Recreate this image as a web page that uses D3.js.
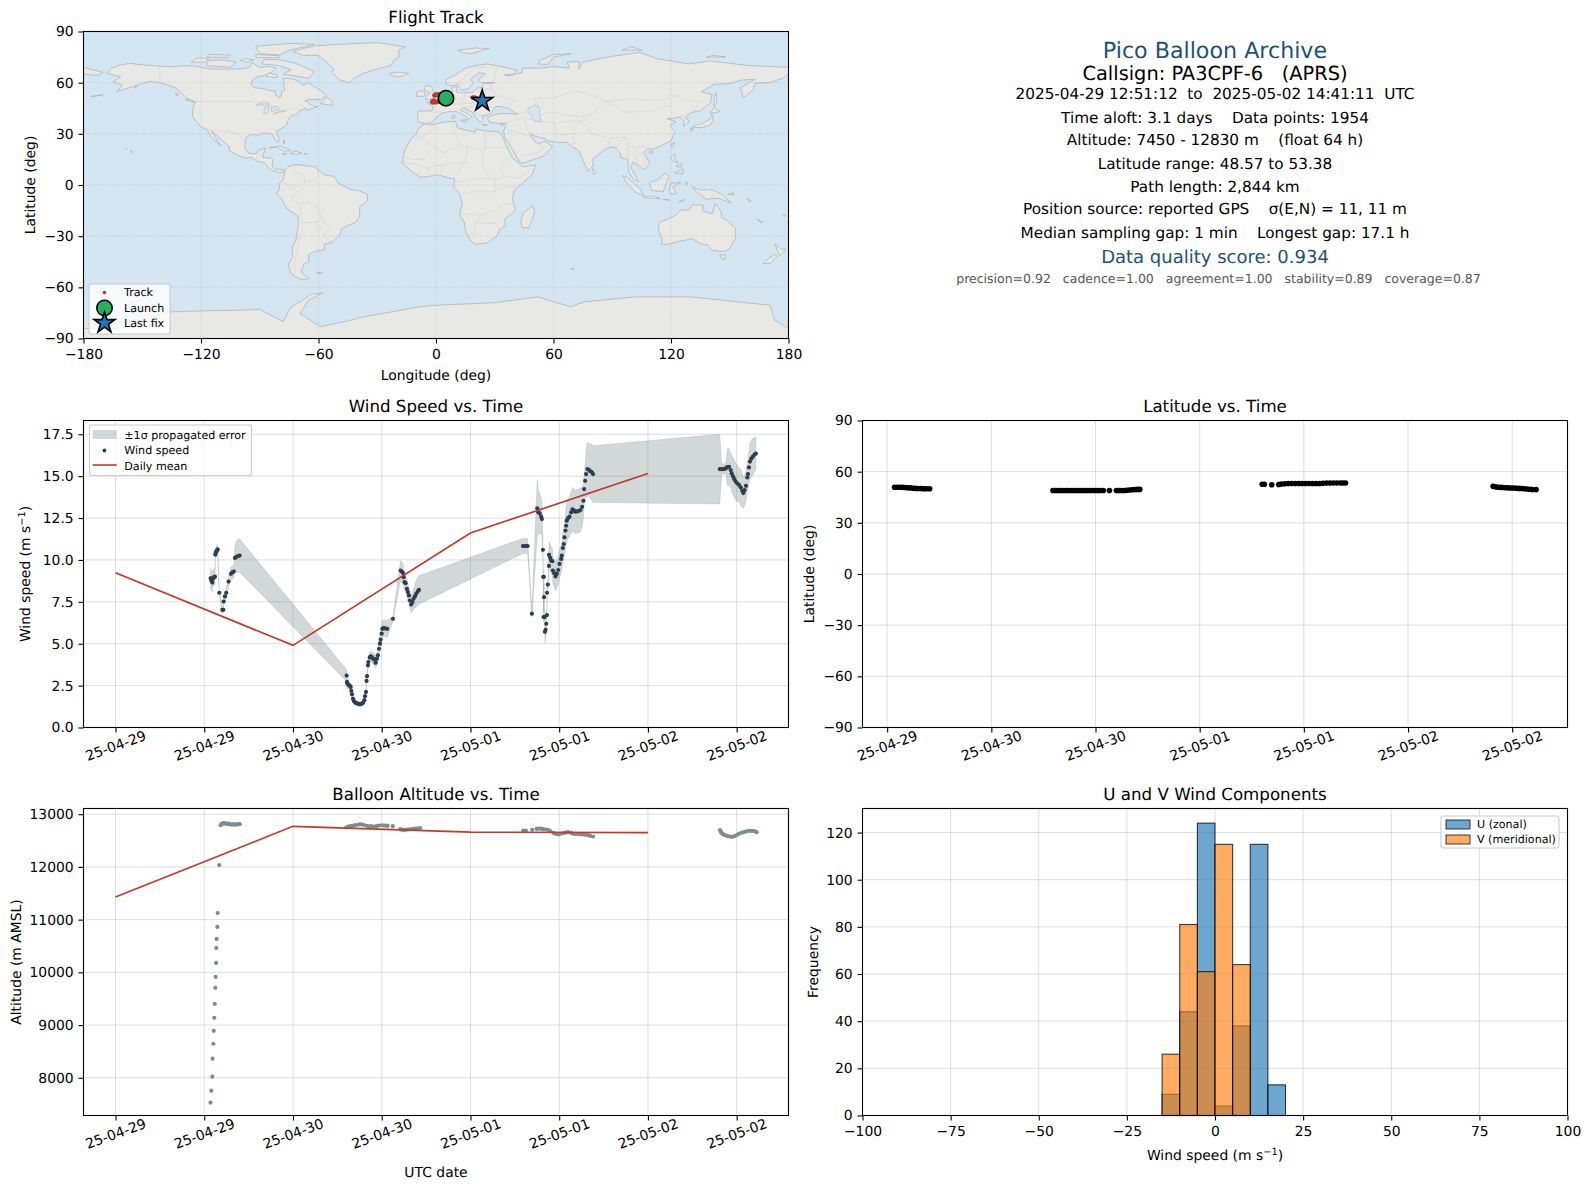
<!DOCTYPE html>
<html>
<head>
<meta charset="utf-8">
<script src="https://d3js.org/d3.v7.min.js"></script>
<style>
body {margin:0; background:#fff;}
svg {display:block;}
text {font-family:"DejaVu Sans"; fill:#000; text-rendering:geometricPrecision;}
</style>
</head>
<body>
<script>
// hours since 2025-04-29 00:00 UTC
var windHours = [12.87,12.96,13.09,13.18,13.32,13.45,13.50,13.58,13.72,13.81,14.03,14.44,14.58,14.62,14.80,14.98,15.29,15.61,15.83,16.00,16.15,16.28,16.51,16.78,
31.26,31.30,31.35,31.49,31.67,31.80,31.89,31.98,32.12,32.25,32.43,32.61,32.84,33.06,33.29,33.47,33.65,33.74,33.87,33.95,34.01,34.14,34.19,34.37,34.50,34.64,34.82,35.04,35.18,35.36,35.49,35.63,35.76,35.85,35.99,36.08,36.26,36.48,36.75,37.52,
38.55,38.69,38.87,38.96,39.09,39.23,39.41,39.54,39.68,39.81,39.99,40.13,40.31,40.49,40.67,40.89,41.03,
55.10,55.33,55.55,55.73,56.31,57.03,57.17,57.35,57.57,57.66,57.80,57.84,57.89,57.93,57.95,58.02,58.07,58.16,58.25,58.34,58.36,58.47,58.61,58.62,58.79,58.92,59.06,59.15,59.33,59.51,59.69,59.87,60.04,60.27,60.36,60.49,60.63,60.72,60.85,60.94,61.03,61.21,61.39,61.62,61.80,61.98,62.20,62.43,62.65,62.88,63.10,63.28,63.37,63.51,63.64,63.82,64.00,64.18,64.40,64.58,
81.71,81.98,82.25,82.52,82.74,82.97,83.19,83.33,83.51,83.69,83.87,84.09,84.31,84.54,84.76,84.90,85.08,85.26,85.44,85.53,85.66,85.80,85.98,86.20,86.43,86.60];
var windSpeed = [8.91,8.77,8.65,8.87,8.97,9.00,10.32,10.46,10.56,10.63,8.04,7.02,7.02,7.52,7.82,8.04,8.71,9.17,9.27,9.31,10.12,10.16,10.22,10.26,
3.10,2.72,2.62,2.54,2.50,2.42,2.18,1.98,1.71,1.57,1.49,1.45,1.41,1.39,1.41,1.47,1.63,1.87,2.12,2.78,3.06,3.71,3.91,4.17,4.25,4.21,4.11,4.05,3.87,4.11,4.31,4.70,5.00,5.24,5.60,5.89,5.93,5.91,5.89,6.49,
9.37,9.31,9.23,8.97,8.67,8.61,8.27,8.08,7.88,7.58,7.34,7.48,7.68,7.82,7.98,8.13,8.21,
10.83,10.83,10.83,10.83,6.79,13.08,12.84,12.78,12.58,12.44,10.60,8.99,6.59,8.99,7.78,6.59,5.71,5.83,6.19,6.71,8.04,8.53,9.64,10.30,10.12,9.96,9.92,9.37,9.21,9.01,9.17,9.40,9.76,10.06,10.26,10.71,10.95,11.35,11.75,12.04,12.34,12.50,12.58,12.84,13.02,12.94,12.88,12.90,12.92,12.98,13.17,13.53,14.23,14.72,15.12,15.42,15.38,15.30,15.24,15.12,
15.42,15.42,15.42,15.46,15.54,15.56,15.36,15.16,14.98,14.82,14.68,14.56,14.48,14.33,14.13,13.99,14.17,14.42,14.92,15.12,15.52,15.87,16.05,16.17,16.29,16.35];
var windSigma = [0.6,0.6,0.6,0.5,0.5,0.5,0.3,0.3,0.3,0.3,0.2,0.2,0.2,0.25,0.3,0.3,0.3,0.4,0.4,0.4,0.7,0.9,1.0,1.0,
0.35,0.3,0.3,0.25,0.2,0.2,0.2,0.2,0.2,0.2,0.15,0.15,0.15,0.15,0.15,0.15,0.2,0.2,0.2,0.2,0.25,0.3,0.3,0.3,0.3,0.3,0.35,0.35,0.35,0.35,0.35,0.35,0.4,0.4,0.45,0.5,0.5,0.5,0.5,0.15,
0.6,0.6,0.6,0.55,0.5,0.5,0.5,0.5,0.5,0.5,0.5,0.55,0.6,0.7,0.8,0.85,0.85,
0.45,0.45,0.45,0.45,0.2,1.7,1.3,1.2,1.1,1.0,0.6,0.4,0.3,0.4,0.35,0.3,0.7,0.6,0.5,0.4,0.3,0.3,0.6,0.8,0.8,0.8,0.8,0.8,0.85,0.85,0.85,0.85,0.85,0.85,0.85,0.9,0.9,1.0,1.0,1.1,1.2,1.2,1.2,1.25,1.3,1.3,1.3,1.3,1.3,1.3,1.2,1.0,0.9,1.1,1.4,1.6,1.6,1.6,1.7,1.7,
2.08,0.3,0.3,0.3,1.1,1.1,1.0,1.1,1.1,1.1,1.1,1.1,1.0,1.1,1.0,0.9,0.9,0.9,0.9,0.9,0.9,1.1,1.1,1.1,1.0,1.0];

var meanHours = [0,24,48,72];
var meanWind = [9.23,4.90,11.61,15.16];
var meanAlt = [11430,12770,12660,12650];

var altHours = [12.85,12.96,13.09,13.12,13.23,13.28,13.36,13.42,13.50,13.55,13.60,13.63,13.68,13.77,13.82,14.03,
14.2,14.35,14.5,14.65,14.8,15.0,15.2,15.4,15.6,15.8,16.0,16.2,16.4,16.6,16.8,
31.2,31.5,31.8,32.0,32.3,32.6,33.0,33.3,33.6,34.0,34.3,34.6,35.0,35.3,35.6,36.0,36.3,36.6,36.8,37.5,
38.5,38.7,39.0,39.3,39.6,40.0,40.3,40.6,40.9,41.2,
55.15,55.5,56.36,56.94,57.1,57.4,57.6,57.84,58.2,58.5,58.8,59.2,59.5,59.87,60.2,60.54,60.9,61.2,61.6,61.9,62.2,62.56,62.9,63.2,63.5,63.9,64.2,64.58,
81.75,81.85,81.93,82.1,82.3,82.55,82.8,83.1,83.37,83.65,83.9,84.15,84.36,84.7,85.03,85.35,85.7,86.05,86.4,86.7];
var altMeters = [7530,7756,8021,8362,8646,8892,9138,9403,9706,9914,10179,10463,10634,10861,11126,12035,
12790,12815,12820,12830,12825,12815,12820,12810,12805,12800,12810,12800,12805,12810,12810,
12748,12765,12775,12780,12790,12795,12805,12805,12795,12780,12770,12775,12767,12775,12785,12790,12785,12785,12780,12773,
12716,12705,12697,12705,12712,12716,12722,12728,12732,12735,
12690,12690,12703,12722,12725,12729,12722,12716,12710,12703,12680,12647,12628,12615,12628,12640,12650,12660,12645,12628,12625,12621,12618,12615,12608,12602,12590,12577,
12697,12670,12647,12625,12609,12595,12584,12575,12571,12582,12596,12615,12634,12650,12666,12676,12684,12682,12678,12659];

var latHours = [12.85,13.2,13.5,13.8,14.1,14.4,14.7,15.0,15.3,15.6,15.9,16.2,16.5,16.9,
31.1,31.4,31.7,32.0,32.3,32.6,32.9,33.2,33.5,33.8,34.1,34.4,34.7,35.0,35.3,35.6,35.9,36.2,36.5,36.9,37.6,
38.4,38.7,39.0,39.3,39.6,39.9,40.2,40.5,40.8,41.1,
55.2,55.45,56.3,57.1,57.4,57.8,58.2,58.6,59.0,59.4,59.8,60.2,60.6,61.0,61.4,61.8,62.2,62.6,63.0,63.4,63.8,64.2,64.5,64.8,
81.8,82.1,82.4,82.7,83.0,83.3,83.6,83.9,84.2,84.5,84.8,85.1,85.4,85.7,86.0,86.3,86.75];
var latDeg = [50.9,50.9,50.85,50.8,50.7,50.5,50.5,50.3,50.2,50.1,50.1,50.0,50.0,50.0,
49.0,49.0,49.0,49.0,49.0,49.0,49.0,49.0,49.0,49.0,49.0,49.0,49.0,49.0,49.0,49.0,48.95,49.0,49.0,49.0,48.9,
48.9,48.9,48.9,49.0,49.1,49.2,49.4,49.5,49.6,49.6,
52.6,52.6,52.3,52.5,52.8,52.9,53.0,53.0,53.0,53.0,53.0,53.0,53.05,53.1,53.1,53.1,53.2,53.3,53.35,53.38,53.38,53.38,53.38,53.38,
51.4,51.1,50.9,50.8,50.7,50.6,50.5,50.4,50.4,50.3,50.2,50.1,50.0,49.8,49.7,49.5,49.45];

var histEdges = [-15,-10,-5,0,5,10,15];
var uCounts = [9,44,124,4,38,115,13];
var vCounts = [26,81,61,115,64,0,0];

var trackLon = [5.1,4.2,3,2,1,0,-0.7,-1.2,-1.6,-1.8,-0.9,0,1.5,3,19,20,21,22,22.8];
var trackLat = [50.9,50.9,50.7,52.9,53,52.9,52.6,49.2,48.8,48.6,48.6,48.7,49,49.3,51.1,51,50.6,50.2,49.6];
var launchLon = 5.1, launchLat = 50.9;
var lastLon = 23.6, lastLat = 49.3;

var infoLines = ["2025-04-29 12:51:12  to  2025-05-02 14:41:11  UTC",
"Time aloft: 3.1 days    Data points: 1954",
"Altitude: 7450 - 12830 m    (float 64 h)",
"Latitude range: 48.57 to 53.38",
"Path length: 2,844 km",
"Position source: reported GPS    \u03c3(E,N) = 11, 11 m",
"Median sampling gap: 1 min    Longest gap: 17.1 h"];

// rough coastlines, lon/lat
var land = [
[[-168,65.5],[-166,68.3],[-162,70.2],[-156.5,71.3],[-150,70.5],[-141,69.7],[-135,69.3],[-128,70],[-124,69.8],[-115,68],[-108,68],[-100,68],[-95,69],[-94,71.8],[-90,69],[-85,69.5],[-81.5,68.5],[-84,66],[-87,64.5],[-92,63],[-94,61],[-94.5,59],[-92.5,57],[-88,56.5],[-85,55.3],[-82,55],[-82,52.9],[-80,51.3],[-79,52],[-79,54.5],[-77,56],[-78,58.5],[-77.5,60],[-78,62.4],[-73.5,62.3],[-70,61],[-68,58.5],[-65,60],[-62,57.5],[-58,54.8],[-56,52.5],[-59,50],[-65,50.2],[-67,49.2],[-65,48.8],[-64.5,47.5],[-62,46],[-60,46],[-64,44.5],[-66,43.7],[-66.5,45],[-70,43.5],[-70.5,41.8],[-74,40.5],[-75.5,38],[-76,35.5],[-78,33.8],[-81,32],[-81.3,30],[-80,26.8],[-80.4,25.2],[-81.8,26],[-82.8,28],[-84,30],[-86,30.4],[-89,30.3],[-90,29.2],[-94,29.6],[-97,28],[-97.5,25],[-97.8,22.3],[-96,19],[-94,18.2],[-91.5,18.6],[-90.5,20.8],[-87,21.5],[-88,18.5],[-88.5,16],[-84,15.8],[-83.3,14.8],[-83.7,11],[-82,9],[-79.5,9.5],[-77.3,8.6],[-78.2,7.5],[-80,7.3],[-83,8.2],[-85.7,10],[-87.5,13],[-91.5,14],[-94.5,16.2],[-97,15.8],[-101.5,17.5],[-105.5,20],[-105.5,22.5],[-109,26],[-112.5,29.5],[-114.7,31.7],[-113,28.5],[-111,25],[-109.6,23],[-112,25],[-115,28.5],[-117,32.5],[-120.5,34.5],[-122.5,37.5],[-124.3,40.3],[-124,46],[-122.7,48.5],[-127,50.8],[-130,54],[-133,57],[-137,58.5],[-141,60],[-146,60.8],[-150,59.5],[-153,58.5],[-158,56.5],[-163,54.8],[-160,58.5],[-165,60.5],[-161,63.5]],
[[-73,78.2],[-68,76],[-60,76],[-55,71],[-52,68],[-53,66],[-49,61.5],[-44,60],[-42,62.5],[-37,65.5],[-30,68],[-23,70],[-22,72.5],[-19,75],[-19,79],[-16,81],[-30,83.5],[-50,82.5],[-62,81.5],[-68,80]],
[[-80,73.5],[-72,71.5],[-68,69.5],[-62,66.5],[-65,62.5],[-72,64],[-78,65],[-74,67.5],[-80,70],[-89,71],[-88,73.5]],
[[-117,70],[-105,69],[-102,72],[-108,73.3],[-117,73]],
[[-125,72],[-118,72],[-116,74],[-122,74.5]],
[[-90,77],[-80,76.3],[-75,79],[-62,82.5],[-75,83],[-92,81.3]],
[[-92,74.7],[-80,74.7],[-80,75.8],[-92,76.5]],
[[-117,75],[-106,74.8],[-105,76.2],[-116,76.5]],
[[-100,73],[-96,72],[-93,73.5],[-98,74]],
[[-59,47.7],[-53,46.7],[-53,49],[-56,51.5]],
[[-87,63.6],[-81,63],[-81,64.5],[-85,65.7]],
[[-128,50],[-123.5,48.4],[-125.5,50.3]],
[[-133,54],[-131.5,53],[-132.5,52.2]],
[[-85,21.8],[-80,23],[-75,20.8],[-74.2,20.1],[-78,19.9],[-81,22]],
[[-74.4,18.5],[-72,20],[-68.5,18.6],[-71,18]],
[[-78.3,18.3],[-76.3,18.2],[-77,17.8]],
[[-67.2,18.4],[-65.7,18.3],[-66,18]],
[[-78,25.2],[-77.2,26.5],[-77.5,24.2]],
[[-156,19],[-155,19.5],[-155.8,20.2]],
[[-158.2,21.5],[-157.7,21.3],[-158,21.7]],
[[-176,51.9],[-170,52.8],[-174,52.2]],
[[-154,57.2],[-152.5,58],[-153.5,57.2]],
[[-77.3,8.6],[-75,11],[-72,12],[-68,11.5],[-62,10.7],[-57,6],[-52,5],[-50,1],[-44,-2.5],[-39,-3.5],[-35,-5.5],[-35,-9],[-39,-13],[-39,-18],[-41,-22],[-45,-23.7],[-48.5,-26],[-49,-29],[-53,-33.5],[-57,-34.8],[-57,-38],[-62,-39],[-65,-41],[-65,-45],[-67.5,-46.5],[-69,-51],[-65,-55],[-69,-55.5],[-74,-52],[-75.5,-47],[-73,-42],[-73.5,-37],[-71.5,-32],[-70.5,-25],[-70.3,-18.5],[-76,-14],[-79,-8],[-81.3,-5],[-80,-2.5],[-80,1],[-78.5,2.5],[-77.5,5]],
[[-61,-51.5],[-58,-51.3],[-59,-52.3]],
[[-6,35.8],[-2,35.2],[3,36.8],[10,37.3],[11,33.5],[15,32.3],[20,31],[20,32.8],[25,31.7],[32,31.2],[34.3,28],[35.5,24],[37.2,20],[39,16],[43,12],[44,10.5],[51,11.8],[49,6],[44,1],[40,-3],[39,-8],[40.6,-15],[35,-20],[35.5,-24],[32.6,-26],[31,-30],[26,-34],[20,-34.8],[18,-33],[15,-27],[14.5,-22],[12,-17],[13.5,-11],[12,-5],[9,-1],[9.5,3.5],[6,4.3],[1,6],[-4,5],[-8,4.5],[-13,8.5],[-17,12.5],[-17,15],[-16,20],[-13,27],[-10,30],[-9,33]],
[[49.3,-12],[50.4,-16],[47.5,-25],[44,-25],[43.3,-21],[44.5,-16.5]],
[[-9,37],[-9.5,39],[-9,43.3],[-2,43.5],[-1.2,46],[-4.7,48.3],[-1,49.5],[2,51],[4,52],[7,53.6],[8.5,55],[8.2,57],[10.5,57.7],[10.5,54.5],[14,54],[19,54.5],[21,57],[24,57.2],[24,59.3],[30,60],[23,60],[21.5,61.5],[25,65.3],[22,65.8],[17.5,62],[19,59.8],[16.5,56.5],[13,55.5],[11,59],[8,58],[5,59.5],[5,62],[10,64.5],[15,68.5],[20,70],[26,71],[31,70],[41,67.5],[40,65],[35,64.5],[37,64],[44,66],[44,68.5],[54,68.5],[60,69.5],[68,68.5],[67,72],[73,72.5],[73,68],[75,72],[81,73.5],[90,75.5],[104,77.7],[113,74],[129,71],[140,72.7],[160,70],[170,69.5],[180,69],[180,65],[177,62.5],[170,60],[163,59.8],[162,56],[157,51],[155.5,57],[163,62],[156,61.5],[150,59.5],[142,59],[135.5,54.7],[141,53],[140,48],[135,43.5],[130.5,42.5],[127.5,39.7],[129.4,37],[126.5,34.5],[126.5,37.7],[124.5,40],[121,39],[118,39],[122.5,37],[119.3,35],[122,31],[120,26],[114,22.5],[110,21],[108,21.5],[106,19],[109.3,13],[106.5,9],[105,10],[100.5,13.5],[99.5,10],[103.5,2],[101,3],[98.3,8],[98,15],[94.5,16],[94,19],[91,22.5],[87,21.5],[80.3,15.5],[80,11],[77.5,8],[73,20],[72,21],[69,22.5],[67,25],[61.5,25],[57,26],[56,27],[51,28.5],[48,30],[50,26],[52,24.2],[56,25.5],[59.5,22.5],[55,17],[45,13],[43,13],[39,21],[35,28],[34.5,31.5],[36,36],[30,36.3],[27,37],[26.3,39.5],[29,41],[34,42],[41.5,41.5],[37,45],[33,46],[30.5,46],[28,42],[26,40.8],[23.5,40.5],[24,38],[22.5,36.5],[19.5,41],[19,42.5],[13.8,45.5],[12.5,44],[18.5,40],[16,38],[15.8,40],[10.5,43],[6,43],[3,42],[0,39.5],[-2,36.8],[-5.5,36]],
[[-180,69],[-175,67.5],[-170,66],[-173,64.3],[-180,65]],
[[-5.5,50],[1.3,51.2],[1.7,52.7],[-1.5,55],[-2,57.5],[-5,58.6],[-6,56],[-3,54],[-5,52]],
[[-10,52],[-6,52],[-5.5,54.5],[-8,55.3],[-10,54]],
[[-24,65.5],[-19,66.2],[-14,65.5],[-18.5,63.4],[-22.5,64]],
[[11,79],[20,80.3],[27,80],[18,77],[14,77.5]],
[[52,71],[57,70.7],[60,75],[69,77],[60,76.5],[53,73]],
[[95,79],[105,79],[100,81]],
[[138,75],[148,75],[142,76]],
[[12.5,38],[15.5,38.2],[15,36.7]],
[[8.3,39],[9.7,39.2],[9.5,41],[8.3,40.8]],
[[23.5,35.3],[26.3,35.2],[25,35]],
[[33,35],[34.5,35.6],[33.5,34.7]],
[[142,46],[143.5,49],[143,54],[142,52]],
[[131,34],[135.5,33.6],[140,35],[141.5,38],[141,41.3],[139.7,38.5],[136,36],[132,35]],
[[140,42],[145,43],[142,45.4]],
[[130,31.3],[131.7,33],[130,33.5]],
[[120.5,22],[122,25],[120,24]],
[[108.7,19],[110.5,18.5],[110.8,20],[109,20]],
[[80,9.7],[81.8,7.5],[80.5,6],[79.8,8]],
[[120,16],[122,18.5],[122,15],[124,13],[121,14]],
[[122,7],[126,9.5],[126,6.5]],
[[122.5,11],[125.5,12.5],[125,10.2]],
[[109,1.5],[113,3],[117,7],[119,5],[117.5,1],[116,-4],[110,-3]],
[[95.3,5.5],[98,4],[104,-2],[106,-6],[102,-4.5],[97,2]],
[[105.5,-6.5],[111,-6.5],[114.5,-8],[106,-7.5]],
[[116,-8.5],[119,-8.3],[119,-9]],
[[120,1],[125,1.5],[121,-1],[122.5,-5],[120,-5.5],[119,-3]],
[[124,-10],[127,-8.5],[125,-9.8]],
[[127.5,1.8],[128.7,1],[128,0]],
[[131,-1],[135,-3],[141,-2.7],[146,-5.5],[150.7,-10.5],[144,-7.7],[138,-8.3],[133,-4]],
[[149,-5.5],[152,-4.3],[152,-6]],
[[159,-8],[161,-9.5],[160,-9.8]],
[[114,-22],[113.5,-26],[115.5,-32],[115,-34.5],[118,-35],[124,-33],[131,-31.5],[135.5,-34.8],[138.5,-35],[141,-38.3],[146.5,-39],[150,-37.5],[153,-31],[153,-25.5],[149,-21],[146,-19],[145.3,-15],[142.5,-10.8],[141,-17],[136,-15],[136.7,-12],[131,-11.5],[129,-15],[125,-14.5],[122,-18]],
[[145,-41],[148,-41],[147.5,-43.5],[146,-43.5]],
[[173,-34.5],[176,-37.5],[178.5,-37.7],[175.5,-41.5],[174.5,-39]],
[[172.7,-40.7],[174.3,-41.7],[170.7,-46],[167,-46],[170,-43]],
[[164,-20],[167,-22],[165.5,-21.7]],
[[177.3,-17.5],[178.6,-17.8],[178,-18.3]],
[[69,-49],[70.5,-49],[69.7,-49.6]],
[[-180,-84.1],[-163,-84],[-136,-74.4],[-118.6,-73.8],[-102,-73.4],[-90,-73],[-78,-80],[-74,-71.4],[-69.5,-68.5],[-63.6,-64],[-57.8,-63.2],[-65,-67.5],[-69.5,-75.3],[-59,-83],[-46,-80],[-37,-77.3],[-27,-75.3],[-8.6,-71.4],[0,-70.5],[30,-69],[52,-65.6],[68.7,-71.4],[75.7,-68.5],[101.5,-65.6],[130,-65.6],[150,-68],[170.6,-70.5],[173,-79.2],[180,-84.1],[180,-90],[-180,-90]]
];
var caspian = [[47,45],[51,47],[53,45],[53,40],[54,37],[50,37.5],[49,40],[47,43]];
var greatLakes = [[[-92,46.8],[-85,46.8],[-85,48],[-88,48.8]],[[-88,42],[-86,42],[-85,46],[-87.5,45.5]],[[-84,43],[-80,44.5],[-81,46],[-84,46]],[[-83,41.6],[-79,42.8],[-76.5,43.5],[-79.5,43.6]]];
// faint country borders
var borders = [
[[-123,49],[-95,49],[-89,48],[-83,46],[-82.5,42],[-79,43],[-76,44.5],[-71,45],[-69,47.3],[-67.5,45.5]],
[[-141,69.7],[-141,60]],
[[-117,32.5],[-108,31.5],[-106.5,31.8],[-101,29.5],[-97.3,26]],
[[-92,14.5],[-91,17.8],[-89,17.8],[-88.5,16]],
[[-72,12],[-72.5,7.5],[-67.5,6],[-67,1.5],[-70,-4],[-74,-7.5],[-70,-11],[-69,-17],[-70.3,-18.5]],
[[-80,-3.5],[-75,-1],[-70,-4]],
[[-78.5,1.5],[-75,0],[-70,-0.5]],
[[-60,8.5],[-60,5],[-64,2],[-67,1.5]],
[[-69,-11],[-65,-10],[-60,-14],[-58,-20],[-54.5,-25.5],[-57.5,-30],[-53,-33.5]],
[[-69,-22],[-62,-22],[-58,-20]],
[[-58,-27],[-62,-22]],
[[-69,-18],[-68,-24],[-70,-33],[-72,-45],[-72,-52]],
[[-8,27.5],[-2,32],[-1.5,35]],
[[-13,27.5],[-8,27.5],[4,19],[12,23.5],[10,30],[8.5,34],[9,37]],
[[12,23.5],[25,20],[25,31.7]],
[[25,22],[36.8,22]],
[[24,20],[24,10],[28,4],[31,3.5],[35,5],[42,4],[48,8]],
[[36.8,17],[33,10],[35,5]],
[[16,23],[15,13],[10,13],[3,12],[-5,10],[-12,12.5],[-16.5,13]],
[[14.5,13],[9,4]],
[[3,12],[3,6.3]],
[[-5,10],[-3,5]],
[[-8,8],[-8,4.5]],
[[-5.5,15],[-12,15],[-16.5,16]],
[[13.5,-5],[18,-4],[30,-4],[30,3.5]],
[[9,2],[16,2],[18,3.5],[28,4]],
[[12,-17],[24,-17.5],[30,-15],[35,-11.5],[40,-10.5]],
[[30,-4],[34,-1],[41,-1.7]],
[[24,-17.5],[20,-22],[20,-28.5],[17,-28.7]],
[[20,-22],[27,-22.5],[31,-22.5],[32,-26]],
[[-1.8,43.3],[3,42.5]],
[[3,51],[6,49.5],[8,49],[7.5,47.6],[6.5,46],[7.5,44]],
[[7,53.6],[6,50.8],[6,49.5]],
[[8.7,54.8],[14.2,54],[15,51],[12.5,50.3],[13.5,48.5],[17,48],[22.5,48.5],[24,51.5],[23.5,54],[21,55.2]],
[[7.5,47.6],[13,47.5],[17,48]],
[[13.7,45.6],[19,46],[22.5,48.5],[28,45.5],[29.5,45.3]],
[[19,42.5],[23,41],[26.3,41.7]],
[[24,51.5],[32,52],[40,49.5],[38,47]],
[[28,56],[28,59.5]],
[[21,56.3],[28,56],[32,52]],
[[31,70],[30,62],[28,59.5]],
[[26,69],[20,69],[12.5,61],[11.5,59]],
[[47,43],[41.5,41.5]],
[[44,39.5],[36.5,36.8]],
[[44,39.5],[46,36],[46,33],[48,30]],
[[36.5,32.5],[39,32],[46,29],[48.5,28.5]],
[[35,29.5],[39,32]],
[[43,17],[52,19],[55,22],[52,24.2]],
[[44,39.5],[54,37],[61,36.5],[61,31],[61.5,25]],
[[61,36.5],[66,37.3],[74,37.3],[71,34],[70,30],[66,29.5],[61,29.5]],
[[74,37.3],[80,42],[87,49]],
[[53,45],[50,51],[60,51],[70,55],[77,53.8],[87,49]],
[[54,41.5],[60,43],[66,41],[74,40],[80,42]],
[[87,49],[98,50.5],[107,50],[117,49.7],[120,53.3],[127,50],[135,48.5],[131,43]],
[[87,49],[97,42.7],[111,43.5],[120,47]],
[[74,37.3],[78,33],[79,30.5],[88,27.5],[97,28],[98,24],[101,21.5],[106,23],[108,21.5]],
[[70,30],[71,24.5],[68,23.7]],
[[88,26],[89,22]],
[[92,22],[94.5,25],[97,28]],
[[98,24],[98,15]],
[[101,21.5],[105,18],[107.5,15],[106,11]],
[[100.5,20],[103,14],[102.5,12]],
[[124.5,40],[130.5,42.5]],
[[126.5,38],[128.5,38.5]],
[[141,-2.7],[141,-9]],
[[110,1.5],[115,4],[117,4.2]]
];

var width = 1590, height = 1189;
var leftX = 83.5, rightX = 862.5, axW = 705, axH = 307;
var rows = [31.5, 420.5, 808.5];
var tickFont = 13.9;

var t0 = Date.UTC(2025,3,29);
var toDate = function(h) {return new Date(t0 + h*3600000);}
var fmtDate = d3.utcFormat("%y-%m-%d");

var svg = d3.select("body").append("svg")
            .attr("width", width)
            .attr("height", height);

// one axes box with ticks, grid and labels
var makeAxes = function(x0, y0, opts)
{
  var g = svg.append("g").attr("transform", "translate(" + x0 + "," + y0 + ")");
  var under = g.append("g");
  var grid = g.append("g");
  var body = g.append("g");

  grid.selectAll("line.gx").data(opts.xTicks).enter().append("line")
      .attr("x1", function(d) {return opts.x(d);}).attr("x2", function(d) {return opts.x(d);})
      .attr("y1", 0).attr("y2", axH);
  grid.selectAll("line.gy").data(opts.yTicks).enter().append("line")
      .attr("class", "gy")
      .attr("x1", 0).attr("x2", axW)
      .attr("y1", function(d) {return opts.y(d);}).attr("y2", function(d) {return opts.y(d);});
  grid.selectAll("line")
      .attr("stroke", "#b0b0b0").attr("stroke-opacity", opts.gridAlpha || 0.4)
      .attr("stroke-width", opts.gridWidth || 1)
      .attr("stroke-dasharray", opts.gridDash || null);

  var yAxis = d3.axisLeft(opts.y).tickValues(opts.yTicks).tickFormat(opts.yFormat).tickSize(5).tickPadding(4.8).tickSizeOuter(0);
  var xAxis = d3.axisBottom(opts.x).tickValues(opts.xTicks).tickFormat(opts.xFormat).tickSize(5).tickPadding(5.5).tickSizeOuter(0);

  var top = g.append("g");
  var gy = top.append("g").call(yAxis);
  var gx = top.append("g").attr("transform", "translate(0," + axH + ")").call(xAxis);
  gy.select(".domain").remove();
  gx.select(".domain").remove();
  top.selectAll(".tick line").attr("stroke", "#000").attr("stroke-width", 1.1);
  top.selectAll(".tick text").attr("font-size", tickFont).attr("font-family", "DejaVu Sans").attr("fill", "#000");

  if (opts.rotate)
  {
    gx.selectAll(".tick text")
      .attr("y", null).attr("dy", null)
      .attr("text-anchor", "middle")
      .attr("dominant-baseline", "central")
      .attr("transform", "translate(0,19) rotate(-20)");
  }

  top.append("rect").attr("x", 0).attr("y", 0).attr("width", axW).attr("height", axH)
     .attr("fill", "none").attr("stroke", "#000").attr("stroke-width", 1.1);

  g.append("text").attr("x", axW/2).attr("y", -8.5).attr("text-anchor", "middle")
   .attr("font-size", 16.67).text(opts.title);

  if (opts.xLabel)
  {
    var xl = g.append("text").attr("x", axW/2).attr("y", axH + opts.xLabelY).attr("text-anchor", "middle")
      .attr("font-size", tickFont);
    addLabel(xl, opts.xLabel);
  }
  var yl = g.append("text")
    .attr("transform", "translate(" + opts.yLabelX + "," + (axH/2) + ") rotate(-90)")
    .attr("text-anchor", "middle").attr("font-size", tickFont);
  addLabel(yl, opts.yLabel);

  return {under: under, body: body, top: top};
}

// handles the m s^-1 superscript
var addLabel = function(sel, label)
{
  if (label.indexOf("^") < 0) { sel.text(label); return; }
  var parts = label.split("^");
  sel.append("tspan").text(parts[0]);
  sel.append("tspan").attr("dy", -5).attr("font-size", 9.8).text(parts[1]);
  sel.append("tspan").attr("dy", 5).text(parts[2]);
}

var legendBox = function(parent, x, y, w, h)
{
  return parent.append("rect").attr("x", x).attr("y", y).attr("width", w).attr("height", h)
    .attr("rx", 2.5).attr("fill", "#fff").attr("fill-opacity", 0.8)
    .attr("stroke", "#ccc").attr("stroke-width", 1.1);
}
var legendText = function(parent, x, y, label)
{
  parent.append("text").attr("x", x).attr("y", y).attr("dominant-baseline", "central")
    .attr("font-size", 11.1).attr("fill", "#000").text(label);
}

// ---------- map ----------
var lonScale = d3.scaleLinear().domain([-180,180]).range([0,axW]);
var latScale = d3.scaleLinear().domain([-90,90]).range([axH,0]);
var mapAxes = makeAxes(leftX, rows[0], {
  x: lonScale, y: latScale,
  xTicks: d3.range(-180,181,60), yTicks: d3.range(-90,91,30),
  xFormat: d3.format("d"), yFormat: d3.format("d"),
  title: "Flight Track", xLabel: "Longitude (deg)", xLabelY: 41, yLabel: "Latitude (deg)", yLabelX: -49,
  gridAlpha: 0.5, gridWidth: 0.6, gridDash: "2,1.5"
});
var geoLine = d3.line().x(function(d) {return lonScale(d[0]);}).y(function(d) {return latScale(d[1]);});

mapAxes.under.append("rect").attr("width", axW).attr("height", axH).attr("fill", "#d4e6f1");
mapAxes.under.selectAll("path.land").data(land).enter().append("path")
  .attr("class", "land")
  .attr("d", function(d) {return geoLine(d) + "Z";})
  .attr("fill", "#e8e8e4").attr("stroke", "#aab2b6").attr("stroke-width", 0.7);
mapAxes.under.selectAll("path.lake").data(greatLakes.concat([caspian])).enter().append("path")
  .attr("class", "lake")
  .attr("d", function(d) {return geoLine(d) + "Z";})
  .attr("fill", "#d4e6f1").attr("stroke", "#aab2b6").attr("stroke-width", 0.5);
mapAxes.under.selectAll("path.border").data(borders).enter().append("path")
  .attr("class", "border")
  .attr("d", geoLine)
  .attr("fill", "none").attr("stroke", "#d3d5d3").attr("stroke-width", 0.6);

mapAxes.body.selectAll("circle.track").data(d3.range(trackLon.length)).enter().append("circle")
  .attr("class", "track")
  .attr("cx", function(i) {return lonScale(trackLon[i]);})
  .attr("cy", function(i) {return latScale(trackLat[i]);})
  .attr("r", 2.5).attr("fill", "#c0392b");
mapAxes.body.append("circle")
  .attr("cx", lonScale(launchLon)).attr("cy", latScale(launchLat)).attr("r", 7.7)
  .attr("fill", "#27ae60").attr("stroke", "#000").attr("stroke-width", 1.6);
var starPath = d3.symbol().type(d3.symbolStar).size(135)();
mapAxes.body.append("path").attr("d", starPath)
  .attr("transform", "translate(" + lonScale(lastLon) + "," + latScale(lastLat) + ")")
  .attr("fill", "#1f77b4").attr("stroke", "#000").attr("stroke-width", 1.6);

var mapLeg = mapAxes.top.append("g").attr("transform", "translate(" + (-leftX) + "," + (-rows[0]) + ")");
legendBox(mapLeg, 89, 284, 81, 50);
mapLeg.append("circle").attr("cx", 104.5).attr("cy", 292.5).attr("r", 1.8).attr("fill", "#c0392b");
mapLeg.append("circle").attr("cx", 104.5).attr("cy", 308).attr("r", 7.7).attr("fill", "#27ae60").attr("stroke", "#000").attr("stroke-width", 1.6);
mapLeg.append("path").attr("d", starPath).attr("transform", "translate(104.5,323)").attr("fill", "#1f77b4").attr("stroke", "#000").attr("stroke-width", 1.6);
legendText(mapLeg, 124, 292.5, "Track");
legendText(mapLeg, 124, 308, "Launch");
legendText(mapLeg, 124, 323, "Last fix");

// ---------- info panel ----------
var infoX = rightX + axW/2;
var info = svg.append("g");
var infoText = function(y, label, size, color, dx)
{
  info.append("text").attr("x", infoX + (dx || 0)).attr("y", y).attr("text-anchor", "middle")
    .attr("dominant-baseline", "central")
    .attr("font-size", size).attr("fill", color).style("fill", color).style("white-space", "pre").text(label);
}
infoText(50.7, "Pico Balloon Archive", 22.2, "#1a5276");
infoText(73, "Callsign: PA3CPF-6   (APRS)", 19.4, "#000");
var lineYs = [94.3, 117.6, 140, 163.5, 186.6, 209.3, 232.5];
infoLines.forEach(function(line, i) {infoText(lineYs[i], line, 15.28, "#000");});
infoText(257.6, "Data quality score: 0.934", 18, "#1a5276");
infoText(278, "precision=0.92   cadence=1.00   agreement=1.00   stability=0.89   coverage=0.87", 12.5, "#555555", 3.5);

// ---------- wind speed ----------
var xLeft = d3.scaleUtc().domain([toDate(-4.33), toDate(91.01)]).range([0,axW]);
var timeTicksLeft = d3.range(0,90,12).map(toDate);
var windY = d3.scaleLinear().domain([0,18.32]).range([axH,0]);
var windAxes = makeAxes(leftX, rows[1], {
  x: xLeft, y: windY,
  xTicks: timeTicksLeft, yTicks: d3.range(0,18,2.5),
  xFormat: fmtDate, yFormat: d3.format(".1f"),
  title: "Wind Speed vs. Time", yLabel: "Wind speed (m s^\u22121^)", yLabelX: -54, rotate: true
});
var idx = d3.range(windHours.length);
var band = d3.area()
  .x(function(i) {return xLeft(toDate(windHours[i]));})
  .y0(function(i) {return windY(windSpeed[i] - windSigma[i]);})
  .y1(function(i) {return windY(windSpeed[i] + windSigma[i]);});
windAxes.body.append("path").attr("d", band(idx))
  .attr("fill", "#7f8c8d").attr("fill-opacity", 0.35)
  .attr("stroke", "#7f8c8d").attr("stroke-opacity", 0.2).attr("stroke-width", 1);
windAxes.body.selectAll("circle").data(idx).enter().append("circle")
  .attr("cx", function(i) {return xLeft(toDate(windHours[i]));})
  .attr("cy", function(i) {return windY(windSpeed[i]);})
  .attr("r", 2.1).attr("fill", "#2c3e50");
var windMeanLine = d3.line()
  .x(function(d, i) {return xLeft(toDate(meanHours[i]));})
  .y(function(d) {return windY(d);});
windAxes.body.append("path").attr("d", windMeanLine(meanWind))
  .attr("fill", "none").attr("stroke", "#c0392b").attr("stroke-width", 1.7);

var windLeg = windAxes.top.append("g").attr("transform", "translate(" + (-leftX) + "," + (-rows[1]) + ")");
legendBox(windLeg, 89.5, 425, 162, 50.5);
windLeg.append("rect").attr("x", 92.7).attr("y", 430).attr("width", 24).attr("height", 9)
  .attr("fill", "#7f8c8d").attr("fill-opacity", 0.35);
windLeg.append("circle").attr("cx", 104.5).attr("cy", 450.5).attr("r", 1.9).attr("fill", "#2c3e50");
windLeg.append("line").attr("x1", 92.7).attr("x2", 116.7).attr("y1", 465).attr("y2", 465)
  .attr("stroke", "#c0392b").attr("stroke-width", 1.6);
legendText(windLeg, 124.3, 435, "\u00b11\u03c3 propagated error");
legendText(windLeg, 124.3, 450.5, "Wind speed");
legendText(windLeg, 124.3, 466, "Daily mean");

// ---------- latitude ----------
var xRight = d3.scaleUtc().domain([toDate(9.16), toDate(90.37)]).range([0,axW]);
var timeTicksRight = d3.range(12,90,12).map(toDate);
var latAxes = makeAxes(rightX, rows[1], {
  x: xRight, y: latScale,
  xTicks: timeTicksRight, yTicks: d3.range(-90,91,30),
  xFormat: fmtDate, yFormat: d3.format("d"),
  title: "Latitude vs. Time", yLabel: "Latitude (deg)", yLabelX: -49, rotate: true
});
latAxes.body.selectAll("circle").data(d3.range(latHours.length)).enter().append("circle")
  .attr("cx", function(i) {return xRight(toDate(latHours[i]));})
  .attr("cy", function(i) {return latScale(latDeg[i]);})
  .attr("r", 2.8).attr("fill", "#000");

// ---------- altitude ----------
var altY = d3.scaleLinear().domain([7285,13108]).range([axH,0]);
var altAxes = makeAxes(leftX, rows[2], {
  x: xLeft, y: altY,
  xTicks: timeTicksLeft, yTicks: d3.range(8000,13001,1000),
  xFormat: fmtDate, yFormat: d3.format("d"),
  title: "Balloon Altitude vs. Time", xLabel: "UTC date", xLabelY: 61, yLabel: "Altitude (m AMSL)", yLabelX: -62.5, rotate: true
});
altAxes.body.selectAll("circle").data(d3.range(altHours.length)).enter().append("circle")
  .attr("cx", function(i) {return xLeft(toDate(altHours[i]));})
  .attr("cy", function(i) {return altY(altMeters[i]);})
  .attr("r", 2.1).attr("fill", "#7f8c8d");
var altMeanLine = d3.line()
  .x(function(d, i) {return xLeft(toDate(meanHours[i]));})
  .y(function(d) {return altY(d);});
altAxes.body.append("path").attr("d", altMeanLine(meanAlt))
  .attr("fill", "none").attr("stroke", "#c0392b").attr("stroke-width", 1.7);

// ---------- histogram ----------
var histX = d3.scaleLinear().domain([-100,100]).range([0,axW]);
var histY = d3.scaleLinear().domain([0,130.2]).range([axH,0]);
var histAxes = makeAxes(rightX, rows[2], {
  x: histX, y: histY,
  xTicks: d3.range(-100,101,25), yTicks: d3.range(0,121,20),
  xFormat: d3.format("d"), yFormat: d3.format("d"),
  title: "U and V Wind Components", xLabel: "Wind speed (m s^\u22121^)", xLabelY: 44, yLabel: "Frequency", yLabelX: -45
});
var drawBars = function(counts, color)
{
  histAxes.body.append("g").selectAll("rect").data(counts).enter().append("rect")
    .attr("x", function(d, i) {return histX(histEdges[i]);})
    .attr("width", function(d, i) {return histX(histEdges[i] + 5) - histX(histEdges[i]);})
    .attr("y", function(d) {return histY(d);})
    .attr("height", function(d) {return axH - histY(d);})
    .attr("fill", color).attr("fill-opacity", 0.65)
    .attr("stroke", "#000").attr("stroke-opacity", 0.75).attr("stroke-width", 1.1)
    .style("display", function(d) {return d > 0 ? null : "none";});
}
drawBars(uCounts, "#1f77b4");
drawBars(vCounts, "#ff7f0e");

var histLeg = histAxes.top.append("g").attr("transform", "translate(" + (-rightX) + "," + (-rows[2]) + ")");
legendBox(histLeg, 1441, 816, 118, 32);
histLeg.append("rect").attr("x", 1446).attr("y", 820).attr("width", 24).attr("height", 9)
  .attr("fill", "#1f77b4").attr("fill-opacity", 0.65).attr("stroke", "#000").attr("stroke-opacity", 0.75);
histLeg.append("rect").attr("x", 1446).attr("y", 835).attr("width", 24).attr("height", 9)
  .attr("fill", "#ff7f0e").attr("fill-opacity", 0.65).attr("stroke", "#000").attr("stroke-opacity", 0.75);
legendText(histLeg, 1477, 824.5, "U (zonal)");
legendText(histLeg, 1477, 839.6, "V (meridional)");
</script>
</body>
</html>
